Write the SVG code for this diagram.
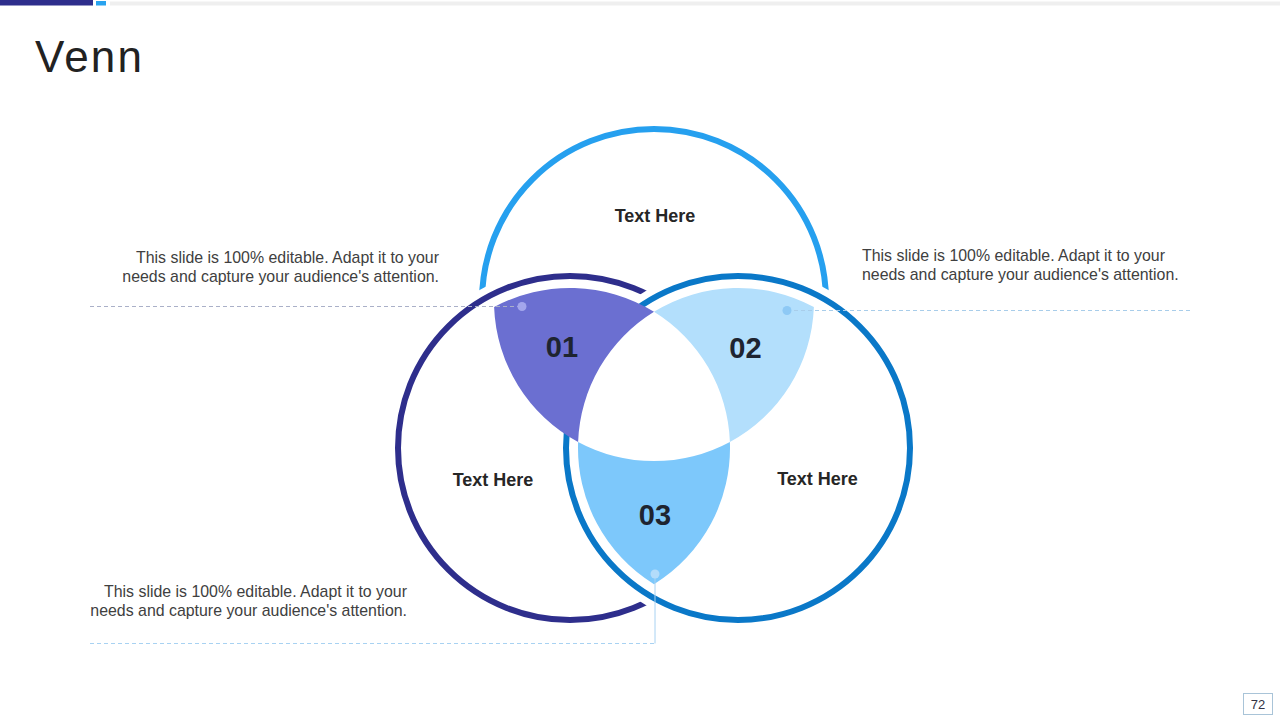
<svg xmlns="http://www.w3.org/2000/svg" width="1280" height="720" viewBox="0 0 1280 720">
  <style>
    .body { font-family: "Liberation Sans", Arial, sans-serif; font-size: 15.9px; fill: #404040; }
    .lbl { font-family: "Liberation Sans", Arial, sans-serif; font-size: 18px; font-weight: bold; fill: #262626; text-anchor: middle; }
    .num { font-family: "Liberation Sans", Arial, sans-serif; font-size: 29px; font-weight: bold; fill: #1e2430; text-anchor: middle; }
    .halo { fill: #ffffff; stroke: #ffffff; stroke-width: 20; }
    .ring { fill: none; stroke-width: 6; }
    .dash { fill: none; stroke-width: 1; stroke-dasharray: 4 3; }
  </style>
  <rect width="1280" height="720" fill="#ffffff"/>
  <g id="header">
    <rect x="0" y="0" width="93" height="5.5" fill="#2e2e8c"/>
    <rect x="96" y="1" width="10" height="4.5" fill="#29a3ef"/>
    <rect x="110" y="1.5" width="1170" height="4" fill="#efefef"/>
    <text x="35" y="72" font-family="'Liberation Sans', Arial, sans-serif" font-size="44" fill="#222222" textLength="107" lengthAdjust="spacing">Venn</text>
  </g>
  <g id="circle-top">
    <circle class="ring" cx="654" cy="301" r="172" stroke="#26a0ef"/>
  </g>
  <g id="circle-left">
    <circle class="halo" cx="570" cy="448" r="172"/>
    <circle class="ring" cx="570" cy="448" r="172" stroke="#2e2e8c"/>
  </g>
  <g id="circle-right">
    <circle class="halo" cx="738" cy="448" r="172"/>
    <circle class="ring" cx="738" cy="448" r="172" stroke="#0a78c8"/>
  </g>
  <g id="petal-01">
    <path d="M494.1 307.1 A160 160 0 0 1 654 311.8 A160 160 0 0 0 578.1 441.9 A160 160 0 0 1 494.1 307.1 Z" fill="#6b6fd1"/>
    <text class="num" x="562" y="357">01</text>
  </g>
  <g id="petal-02">
    <path d="M813.9 307.1 A160 160 0 0 0 654 311.8 A160 160 0 0 1 729.9 441.9 A160 160 0 0 0 813.9 307.1 Z" fill="#b3dffc"/>
    <text class="num" x="745.5" y="358">02</text>
  </g>
  <g id="petal-03">
    <path d="M578.1 441.9 A160 160 0 0 0 654 584.2 A160 160 0 0 0 729.9 441.9 A160 160 0 0 1 578.1 441.9 Z" fill="#7dc8fb"/>
    <text class="num" x="655" y="525">03</text>
  </g>
  <g id="connectors">
    <line class="dash" x1="90" y1="306.5" x2="522" y2="306.5" stroke="#aab0c8"/>
    <line class="dash" x1="787" y1="310.5" x2="1190" y2="310.5" stroke="#a8cdea"/>
    <line x1="655" y1="574" x2="655" y2="643.5" stroke="#a8d2f2" stroke-width="1"/>
    <line class="dash" x1="90" y1="643.5" x2="655" y2="643.5" stroke="#a8d2f2"/>
    <circle cx="522" cy="306.5" r="4.5" fill="#a3a6ec"/>
    <circle cx="787" cy="310.5" r="4.5" fill="#8ec9f5"/>
    <circle cx="655" cy="574" r="4.5" fill="#b3dcfa"/>
  </g>
  <g id="labels">
    <text class="lbl" x="655" y="222">Text Here</text>
    <text class="lbl" x="493" y="486">Text Here</text>
    <text class="lbl" x="817.5" y="485">Text Here</text>
  </g>
  <g id="note-top-left">
    <text class="body" x="439" y="263" text-anchor="end">This slide is 100% editable. Adapt it to your</text>
    <text class="body" x="439" y="282" text-anchor="end">needs and capture your audience's attention.</text>
  </g>
  <g id="note-top-right">
    <text class="body" x="862" y="261">This slide is 100% editable. Adapt it to your</text>
    <text class="body" x="862" y="280">needs and capture your audience's attention.</text>
  </g>
  <g id="note-bottom-left">
    <text class="body" x="407" y="597" text-anchor="end">This slide is 100% editable. Adapt it to your</text>
    <text class="body" x="407" y="616" text-anchor="end">needs and capture your audience's attention.</text>
  </g>
  <g id="page-number">
    <rect x="1243.5" y="693.5" width="29" height="21" fill="#ffffff" stroke="#a9c4d8" stroke-width="1"/>
    <text x="1258" y="708.5" text-anchor="middle" font-family="'Liberation Sans', Arial, sans-serif" font-size="13" fill="#333344">72</text>
  </g>
</svg>
